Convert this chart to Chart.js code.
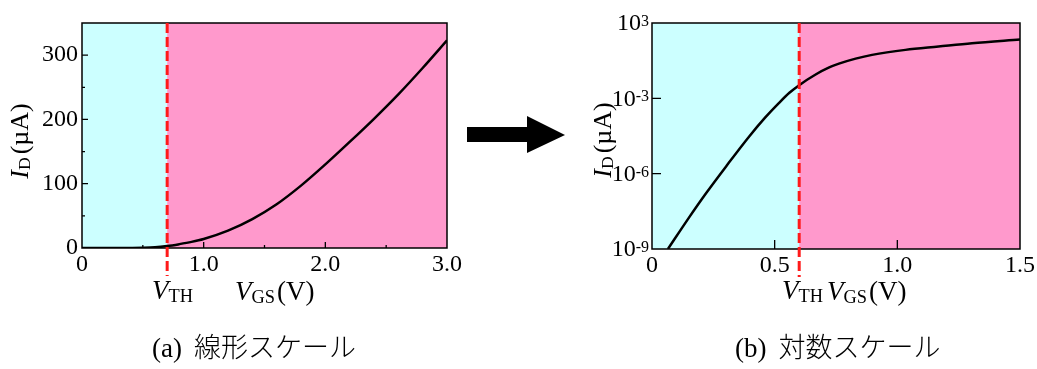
<!DOCTYPE html>
<html lang="ja">
<head>
<meta charset="utf-8">
<title>I_D – V_GS</title>
<script src="https://cdn.jsdelivr.net/npm/chart.js@4.4.1/dist/chart.umd.min.js"></script>
<style>
  html, body { margin: 0; padding: 0; background: #fff; }
  body { width: 1037px; height: 369px; position: relative; overflow: hidden;
         font-family: 'Liberation Serif', 'Times New Roman', serif; color: #000; }
  canvas { position: absolute; top: 0; }
  #cLin { left: 0; }
  #cLog { left: 560px; }
  .t { position: absolute; white-space: nowrap; line-height: 1; font-size: 27px; transform: translate(0, -50%); }
  .t i { font-style: italic; }
  .sub { font-size: 0.68em; position: relative; top: 0.14em; }
  .rot { font-size: 26px; transform: translate(-50%, -50%) rotate(-90deg); }
  .cap { position: absolute; white-space: nowrap; line-height: 1; font-size: 27px; transform: translate(0, -50%);
         font-family: 'Liberation Serif', 'Noto Sans CJK JP', serif; }
  .cap .jp { font-family: 'Noto Sans CJK JP', sans-serif; font-weight: 300; margin-left: 12px; }
  svg { position: absolute; left: 0; top: 0; }
</style>
</head>
<body>
<canvas id="cLin" width="470" height="300"></canvas>
<canvas id="cLog" width="477" height="300"></canvas>

<svg width="1037" height="369" viewBox="0 0 1037 369">
  <polygon points="467,127 527,127 527,116 565,135 527,153 527,142 467,142" fill="#000"/>
</svg>

<!-- axis titles, linear panel -->
<div class="t rot" style="left:20px; top:141px;"><i>I</i><span class="sub">D</span><span style="margin-left:3px">(µA)</span></div>
<div class="t" style="left:152px; top:290px;"><i>V</i><span class="sub">TH</span></div>
<div class="t" style="left:235px; top:291px;"><i>V</i><span class="sub">GS</span><span style="margin-left:2px">(V)</span></div>

<!-- axis titles, log panel -->
<div class="t rot" style="left:603px; top:140px;"><i>I</i><span class="sub">D</span><span style="margin-left:3px">(µA)</span></div>
<div class="t" style="left:782px; top:290px;"><i>V</i><span class="sub">TH</span></div>
<div class="t" style="left:827px; top:291px;"><i>V</i><span class="sub">GS</span><span style="margin-left:2px">(V)</span></div>

<!-- panel captions -->
<div class="cap" style="left:152px; top:347px;">(a)<span class="jp">線形スケール</span></div>
<div class="cap" style="left:735px; top:347px;">(b)<span class="jp">対数スケール</span></div>

<script>
// ---- linear panel: drain current vs gate voltage ----
const linVgs = [0, 0.3, 0.5, 0.6, 0.7, 0.8, 0.9, 1.0, 1.2, 1.4, 1.6, 1.8, 2.0, 2.2, 2.4, 2.6, 2.8, 3.0];
const linId  = [0, 0, 0.3, 1, 3, 6, 9.5, 14, 27, 45, 68, 97, 130, 165, 201, 239, 280, 323];
const linXTicks  = [0, 1, 2, 3];
const linXLabels = ['0', '1.0', '2.0', '3.0'];
const linXMinor  = [0.5, 1.5, 2.5];
const linYTicks  = [0, 100, 200, 300];
const linYLabels = ['0', '100', '200', '300'];
const linYMinor  = [50, 150, 250];
const linVth = 0.7;

// ---- log panel: same transistor, subthreshold region visible ----
const logVgs = [0.065, 0.15, 0.221, 0.302, 0.397, 0.46, 0.518, 0.56, 0.597, 0.667, 0.72, 0.762, 0.83, 0.897, 1.033, 1.168, 1.304, 1.5];
const logId  = [1e-9, 1.74e-8, 1.7e-7, 1.95e-6, 3.1e-5, 1.66e-4, 6.6e-4, 1.66e-3, 3.2e-3, 8.9e-3, 1.66e-2, 2.4e-2, 3.8e-2, 5.37e-2, 8.51e-2, 0.115, 0.155, 0.219];
const logXTicks  = [0, 0.5, 1.0, 1.5];
const logXLabels = ['0', '0.5', '1.0', '1.5'];
const logYTicks  = [1e-9, 1e-6, 1e-3, 1];
const logYExp    = ['-9', '-6', '-3', '3'];
const logVth = 0.6;

const SERIF = "'Liberation Serif', 'Times New Roman', serif";
const CYAN = '#ccffff';
const PINK = '#ff99cc';
const RED  = '#ff1a1a';

// Shaded regions, threshold line, frame and inward tick marks
const regionPlugin = {
  id: 'regions',
  beforeDatasetsDraw(chart, args, o) {
    const { ctx, chartArea: a, scales: { x } } = chart;
    const xv = x.getPixelForValue(o.vth);
    ctx.save();
    ctx.fillStyle = CYAN;
    ctx.fillRect(a.left, a.top, xv - a.left, a.bottom - a.top);
    ctx.fillStyle = PINK;
    ctx.fillRect(xv, a.top, a.right - xv, a.bottom - a.top);
    ctx.restore();
  },
  afterDatasetsDraw(chart, args, o) {
    const { ctx, chartArea: a, scales: { x, y } } = chart;
    ctx.save();
    // frame
    ctx.strokeStyle = '#000';
    ctx.lineWidth = 1.5;
    ctx.strokeRect(a.left, a.top, a.right - a.left, a.bottom - a.top);
    // tick marks pointing into the plot
    ctx.lineWidth = 1.3;
    ctx.beginPath();
    (o.xMajor || []).forEach(v => { const p = x.getPixelForValue(v); ctx.moveTo(p, a.bottom); ctx.lineTo(p, a.bottom - o.major); });
    (o.xMinor || []).forEach(v => { const p = x.getPixelForValue(v); ctx.moveTo(p, a.bottom); ctx.lineTo(p, a.bottom - o.minor); });
    (o.yMajor || []).forEach(v => { const p = y.getPixelForValue(v); ctx.moveTo(a.left, p); ctx.lineTo(a.left + o.major, p); });
    (o.yMinor || []).forEach(v => { const p = y.getPixelForValue(v); ctx.moveTo(a.left, p); ctx.lineTo(a.left + o.minor, p); });
    ctx.stroke();
    // threshold voltage, dashed, running below the axis
    const xv = x.getPixelForValue(o.vth);
    ctx.strokeStyle = RED;
    ctx.lineWidth = 3;
    ctx.setLineDash([10, 4]);
    ctx.beginPath();
    ctx.moveTo(xv, a.top);
    ctx.lineTo(xv, o.dashEnd);
    ctx.stroke();
    ctx.restore();
  },
  afterDraw(chart, args, o) {
    if (!o.expLabels) return;
    const { ctx, chartArea: a, scales: { y } } = chart;
    ctx.save();
    ctx.fillStyle = '#000';
    o.expLabels.forEach((e, i) => {
      const p = y.getPixelForValue(logYTicks[i]);
      ctx.font = '16px ' + SERIF;
      const we = ctx.measureText(e).width;
      ctx.font = '24px ' + SERIF;
      const wb = ctx.measureText('10').width;
      const right = a.left - 3;
      ctx.textBaseline = 'middle';
      ctx.textAlign = 'left';
      ctx.fillText('10', right - we - wb, p + 1);
      ctx.font = '16px ' + SERIF;
      ctx.textBaseline = 'alphabetic';
      ctx.fillText(e, right - we, p + 3);
    });
    ctx.restore();
  }
};

const tickFont = { family: SERIF, size: 24 };

function curve(xs, ys) {
  return [{
    data: xs.map((v, i) => ({ x: v, y: ys[i] })),
    borderColor: '#000',
    borderWidth: 2.5,
    pointRadius: 0,
    cubicInterpolationMode: 'monotone',
    fill: false
  }];
}

new Chart(document.getElementById('cLin'), {
  type: 'line',
  data: { datasets: curve(linVgs, linId) },
  options: {
    responsive: false, animation: false, devicePixelRatio: 1,
    layout: { padding: { left: 0, right: 23, top: 23, bottom: 0 } },
    plugins: {
      legend: { display: false }, tooltip: { enabled: false },
      regions: { vth: linVth, xMajor: [1, 2], xMinor: linXMinor, yMajor: [100, 200, 300], yMinor: linYMinor,
                 major: 6, minor: 3, dashEnd: 276 }
    },
    scales: {
      x: {
        type: 'linear', min: 0, max: 3,
        afterBuildTicks: s => { s.ticks = linXTicks.map(v => ({ value: v })); },
        afterFit: s => { s.height = 52; },
        grid: { display: false, drawTicks: false }, border: { display: false },
        ticks: { font: tickFont, color: '#000', padding: 2, maxRotation: 0, autoSkip: false,
                 callback: (v, i) => linXLabels[i] }
      },
      y: {
        type: 'linear', min: 0, max: 350,
        afterBuildTicks: s => { s.ticks = linYTicks.map(v => ({ value: v })); },
        afterFit: s => { s.width = 82; },
        grid: { display: false, drawTicks: false }, border: { display: false },
        ticks: { font: tickFont, color: '#000', padding: 4, autoSkip: false,
                 callback: (v, i) => linYLabels[i] }
      }
    }
  },
  plugins: [regionPlugin]
});

new Chart(document.getElementById('cLog'), {
  type: 'line',
  data: { datasets: curve(logVgs, logId) },
  options: {
    responsive: false, animation: false, devicePixelRatio: 1,
    layout: { padding: { left: 0, right: 15, top: 23, bottom: 0 } },
    plugins: {
      legend: { display: false }, tooltip: { enabled: false },
      regions: { vth: logVth, xMajor: [0.5, 1.0], yMajor: [1e-6, 1e-3],
                 major: 9, minor: 3, dashEnd: 277, expLabels: logYExp }
    },
    scales: {
      x: {
        type: 'linear', min: 0, max: 1.5,
        afterBuildTicks: s => { s.ticks = logXTicks.map(v => ({ value: v })); },
        afterFit: s => { s.height = 51; },
        grid: { display: false, drawTicks: false }, border: { display: false },
        ticks: { font: tickFont, color: '#000', padding: 2, maxRotation: 0, autoSkip: false,
                 callback: (v, i) => logXLabels[i] }
      },
      y: {
        type: 'logarithmic', min: 1e-9, max: 1,
        afterBuildTicks: s => { s.ticks = logYTicks.map(v => ({ value: v })); },
        afterFit: s => { s.width = 92; },
        grid: { display: false, drawTicks: false }, border: { display: false },
        ticks: { display: false }
      }
    }
  },
  plugins: [regionPlugin]
});
</script>
</body>
</html>
